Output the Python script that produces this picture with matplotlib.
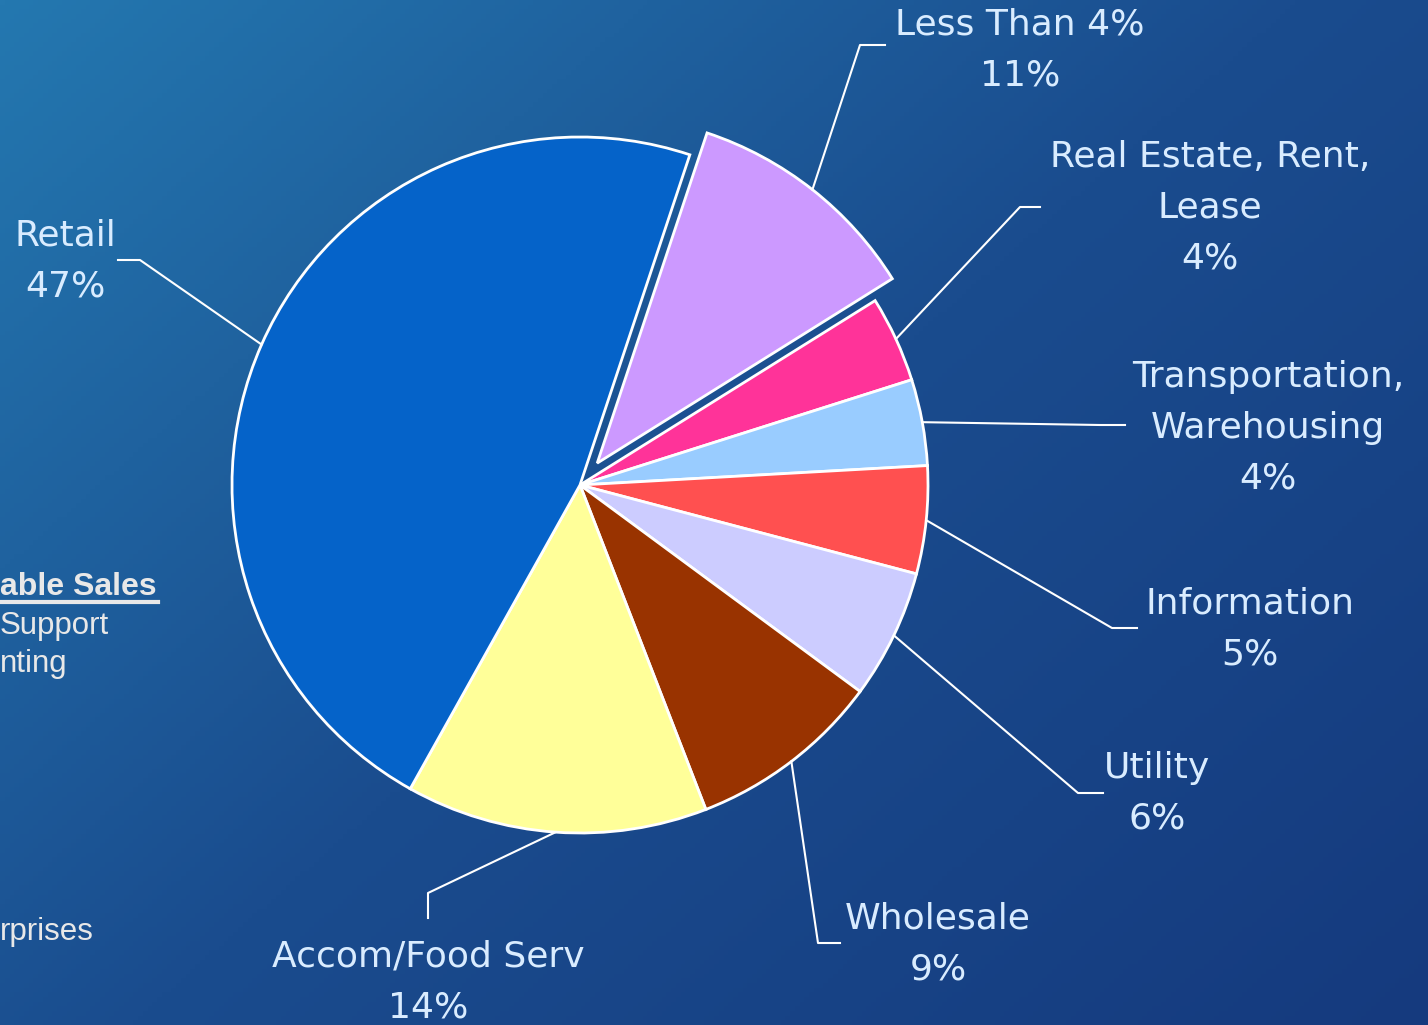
"""Share of taxable sales by industry, pie on a blue slide background."""

import numpy as np
import matplotlib.pyplot as plt

# data

labels = ["Less Than 4%", "Real Estate, Rent,\nLease", "Transportation,\nWarehousing",
          "Information", "Utility", "Wholesale", "Accom/Food Serv", "Retail"]
shares = [11, 4, 4, 5, 6, 9, 14, 47]
colors = ["#CC99FF", "#FF3399", "#99CCFF", "#FF5050", "#CCCCFF", "#993300", "#FFFF99", "#0563C9"]
pulled = [0.08, 0, 0, 0, 0, 0, 0, 0]  # fraction of radius

# layout (pixels, y from top)
W, H = 1428, 1025
CX, CY, R = 580, 485, 348
text_pos = [(1020, 50), (1210, 208), (1268, 428), (1250, 629),
            (1157, 793), (938, 944), (428, 982), (65, 261)]
elbow = [(860, 45), (1020, 207), (1100, 425), (1112, 628),
         (1078, 793), (818, 943), (428, 893), (140, 260)]
line_end = [(885, 45), (1040, 207), (1125, 425), (1137, 628),
            (1103, 793), (840, 943), (428, 918), (118, 260)]

fig = plt.figure(figsize=(W / 100, H / 100), dpi=100)

# background gradient

bg = fig.add_axes([0, 0, 1, 1])
xx, yy = np.meshgrid(np.linspace(0, 1, 300), np.linspace(0, 1, 220))
t = np.clip(0.55 * xx + 0.45 * yy, 0, 1)
c0 = np.array([0x24, 0x78, 0xB0]) / 255
c1 = np.array([0x1A, 0x4C, 0x8E]) / 255
c2 = np.array([0x15, 0x3A, 0x7E]) / 255
img = np.where(t[..., None] < 0.5,
               c0 + (c1 - c0) * (t[..., None] / 0.5),
               c1 + (c2 - c1) * ((t[..., None] - 0.5) / 0.5))
bg.imshow(img, extent=[0, 1, 0, 1], aspect="auto", origin="upper")
bg.axis("off")

# pie

ax = fig.add_axes([0, 0, 1, 1])
ax.patch.set_alpha(0)
wedges, _ = ax.pie(shares, colors=colors, explode=[p * R for p in pulled],
                   startangle=71.6, counterclock=False, center=(CX, H - CY), radius=R,
                   wedgeprops=dict(edgecolor="white", linewidth=2))
ax.set_xlim(0, W)
ax.set_ylim(0, H)
ax.axis("off")

# labels with leader lines

for i, w in enumerate(wedges):
    mid = np.deg2rad((w.theta1 + w.theta2) / 2)
    cx, cy = w.center
    sx, sy = cx + R * np.cos(mid), cy + R * np.sin(mid)
    ex, ey = elbow[i]
    lx, ly = line_end[i]
    ax.plot([sx, ex, lx], [sy, H - ey, H - ly], color="white", lw=1.5)
    tx, ty = text_pos[i]
    ax.text(tx, H - ty, f"{labels[i]}\n{shares[i]}%", ha="center", va="center",
            fontsize=26, color="#D9ECFF", family="DejaVu Sans", linespacing=1.62)

# text of the slide behind, cut off at the left edge

behind = dict(color="#E8E8E8", family="Liberation Sans", va="center", ha="left")
ax.text(0, H - 587, "able Sales", fontsize=23, fontweight="bold", **behind)
ax.plot([0, 158], [H - 602, H - 602], color="#E8E8E8", lw=3)
ax.text(0, H - 626, "Support", fontsize=22.5, **behind)
ax.text(0, H - 664, "nting", fontsize=22.5, **behind)
ax.text(0, H - 932, "rprises", fontsize=22.5, **behind)

fig.savefig("out.png", dpi=100)
